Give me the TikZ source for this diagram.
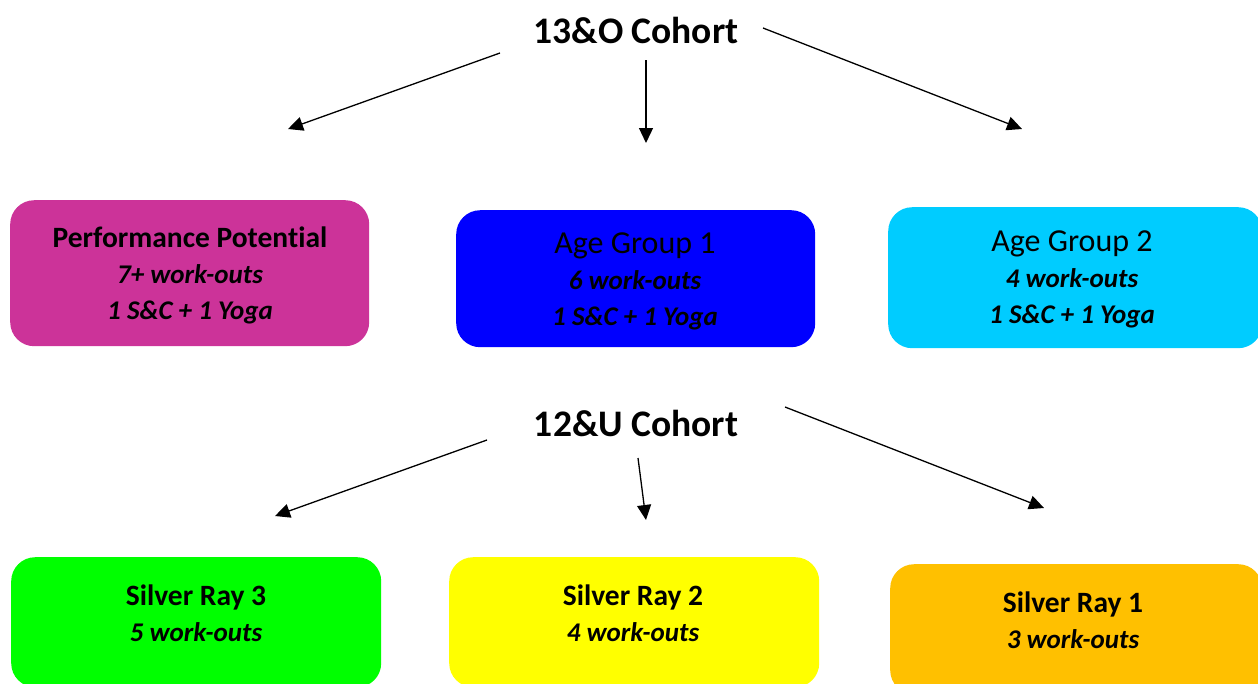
\documentclass[tikz,border=0pt]{standalone}
\usepackage{fontspec}
\setmainfont{Carlito}[Ligatures=NoCommon]
\usetikzlibrary{arrows.meta}
\definecolor{ppmag}{RGB}{204,51,153}
\definecolor{agblue}{RGB}{0,0,255}
\definecolor{agcyan}{RGB}{0,204,255}
\definecolor{srgreen}{RGB}{0,255,0}
\definecolor{sryellow}{RGB}{255,255,0}
\definecolor{srorange}{RGB}{255,192,0}
\begin{document}
\begin{tikzpicture}[x=1pt, y=-1pt, >={Triangle[length=15pt, width=14pt]},
        box/.style={rectangle, rounded corners=24pt, draw=none, anchor=north west, inner sep=0pt},
        cohort/.style={font=\fontsize{37.5}{40}\selectfont\bfseries},
        txt/.style={align=center, font=\fontsize{27}{36}\selectfont\bfseries\itshape}]
        \useasboundingbox (0,0) rectangle (1258,683);
        % Nodes
        \node[cohort] (C13) at (636,30) {13\&O Cohort};
        \node[cohort] (C12) at (636,423) {12\&U Cohort};
        \node[box, fill=ppmag, minimum width=359pt, minimum height=146pt] (PP) at (10,200) {};
        \node[box, fill=agblue, minimum width=359pt, minimum height=137pt] (AG1) at (456,210) {};
        \node[box, fill=agcyan, minimum width=374pt, minimum height=141pt] (AG2) at (888,207) {};
        \node[box, fill=srgreen, minimum width=370pt, minimum height=130pt] (SR3) at (11,557) {};
        \node[box, fill=sryellow, minimum width=370pt, minimum height=130pt] (SR2) at (449,557) {};
        \node[box, fill=srorange, minimum width=372pt, minimum height=130pt] (SR1) at (890,564) {};
        
        % Labels
        \node[txt] (PPt) at (190,275) {{\fontsize{29.5}{36}\selectfont\upshape Performance Potential}\\7+ work-outs\\1 S\&C + 1 Yoga};
        \node[txt] (AG1t) at (635,281) {{\fontsize{32}{36}\selectfont\mdseries\upshape Age Group 1}\\6 work-outs\\1 S\&C + 1 Yoga};
        \node[txt] (AG2t) at (1072,279) {{\fontsize{32}{36}\selectfont\mdseries\upshape Age Group 2}\\4 work-outs\\1 S\&C + 1 Yoga};
        \node[txt] (SR3t) at (196,613) {{\fontsize{29.5}{37}\selectfont\upshape Silver Ray 3}\\5 work-outs};
        \node[txt] (SR2t) at (633,613) {{\fontsize{29.5}{37}\selectfont\upshape Silver Ray 2}\\4 work-outs};
        \node[txt] (SR1t) at (1073,620) {{\fontsize{29.5}{37}\selectfont\upshape Silver Ray 1}\\3 work-outs};
        
        % Edges
        \coordinate (a1) at (500,53);  \coordinate (b1) at (288,129);
        \coordinate (a2) at (646,60);  \coordinate (b2) at (646,143);
        \coordinate (a3) at (763,28);  \coordinate (b3) at (1022,129);
        \coordinate (a4) at (487,440); \coordinate (b4) at (275,516);
        \coordinate (a5) at (638,458); \coordinate (b5) at (646,520);
        \coordinate (a6) at (785,407); \coordinate (b6) at (1044,508);
        \draw[->, line width=1.3pt] (a1) -- (b1);
        \draw[->, line width=1.3pt] (a2) -- (b2);
        \draw[->, line width=1.3pt] (a3) -- (b3);
        \draw[->, line width=1.3pt] (a4) -- (b4);
        \draw[->, line width=1.3pt] (a5) -- (b5);
        \draw[->, line width=1.3pt] (a6) -- (b6);
    \end{tikzpicture}
\end{document}
